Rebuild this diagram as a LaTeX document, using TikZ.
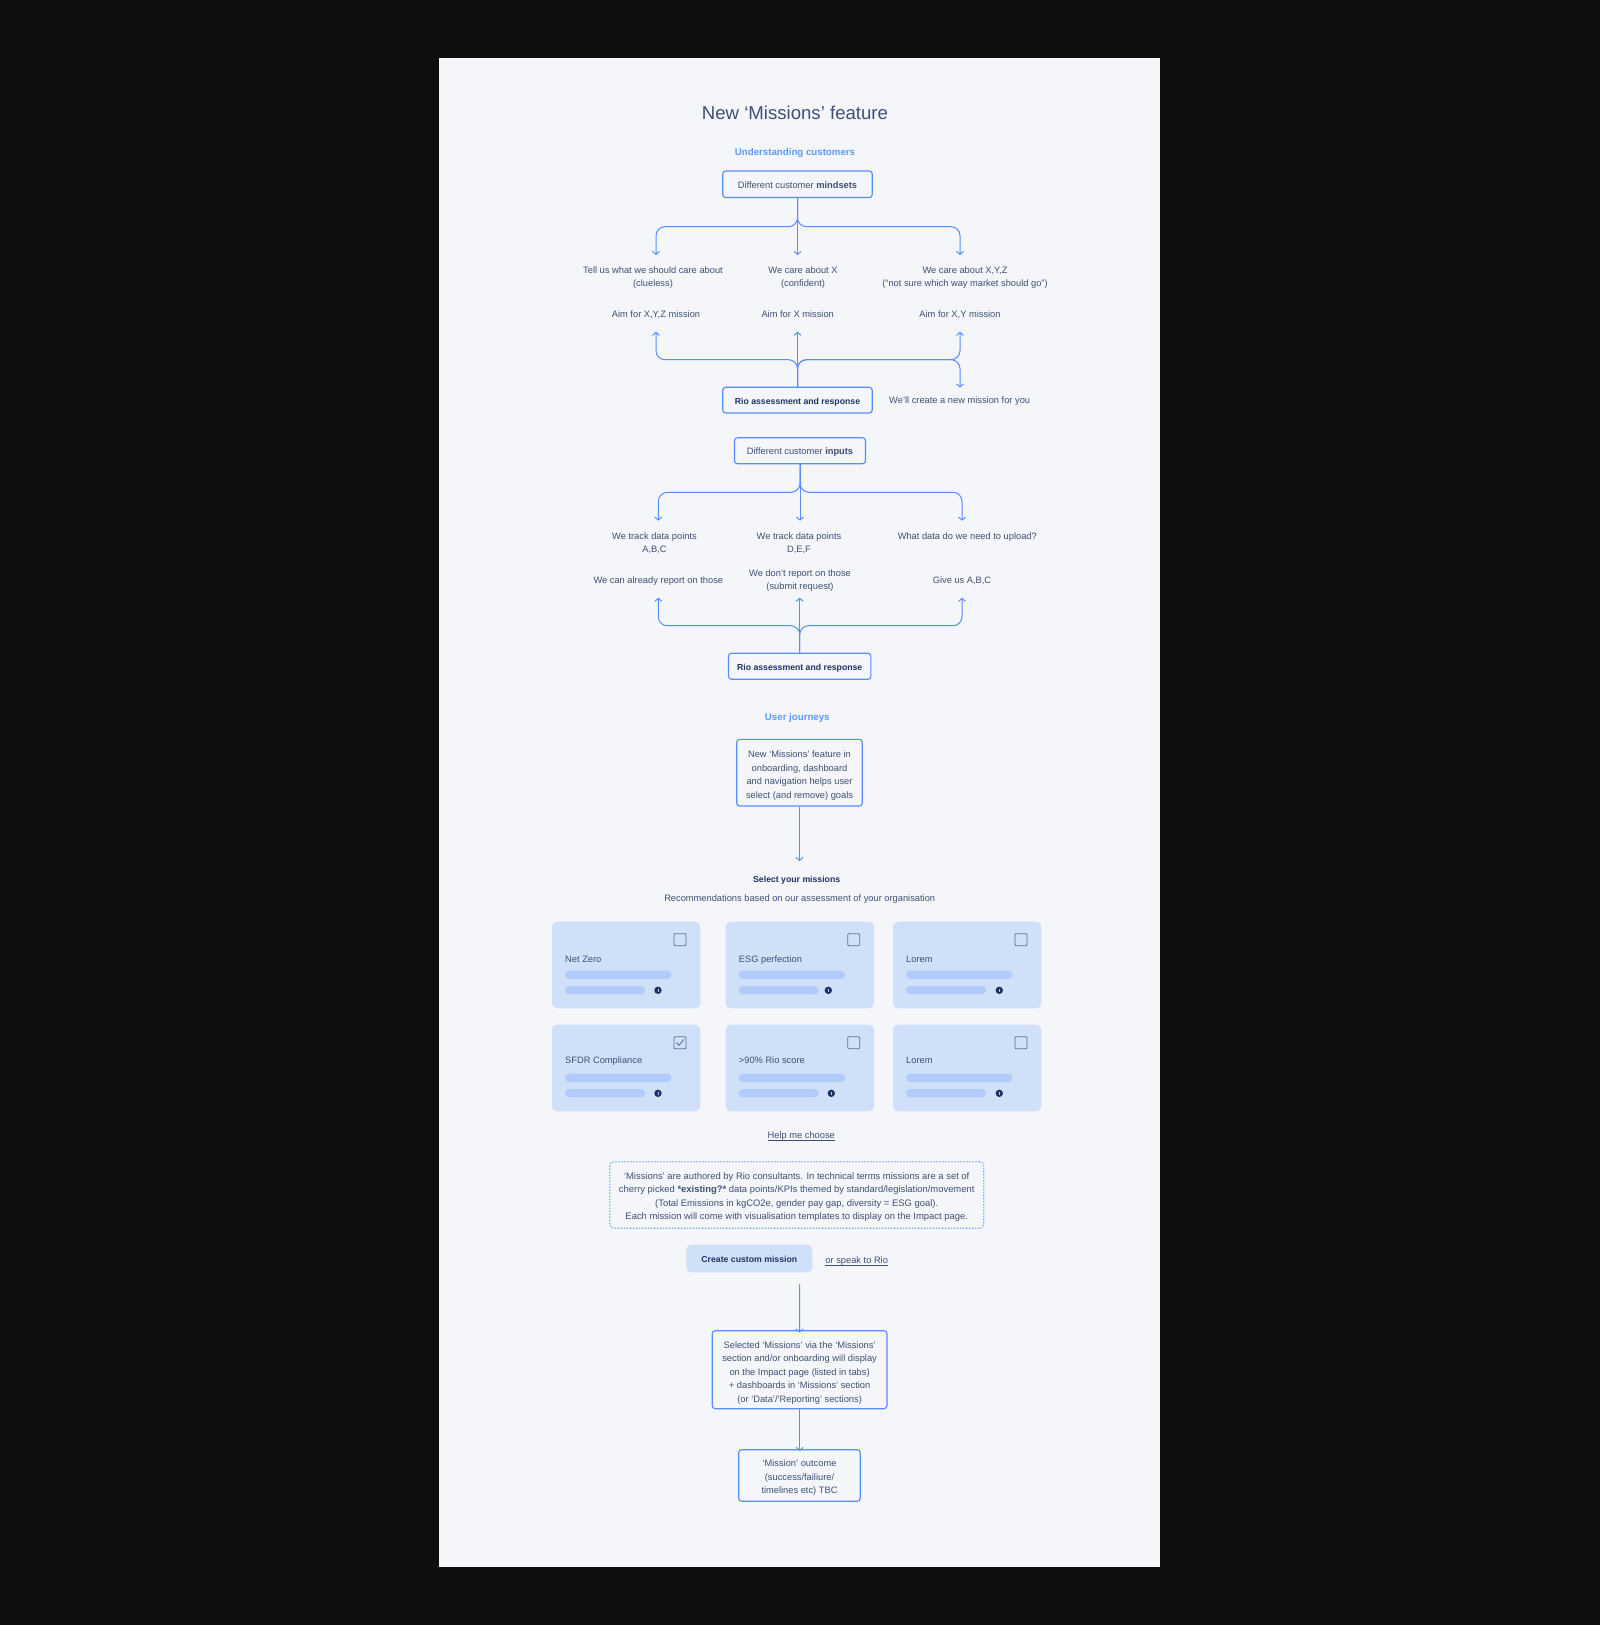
\documentclass[tikz,border=0pt]{standalone}
\usepackage{fontspec}
\setmainfont{Liberation Sans}
\usetikzlibrary{arrows.meta}
\definecolor{outside}{HTML}{0E0E0F}
\definecolor{panel}{HTML}{F4F6F9}
\definecolor{cardfill}{HTML}{D0E0F9}
\definecolor{barfill}{HTML}{B1CCFA}
\definecolor{bodytext}{HTML}{3F4F75}
\definecolor{darktext}{HTML}{1F3263}
\definecolor{linecol}{HTML}{558FFF}
\definecolor{headcol}{HTML}{5B9BFF}
\definecolor{tickcol}{HTML}{5D7199}
\newcommand{\bodysize}{\fontsize{9.3}{13.5}\selectfont}
\newcommand{\notesize}{\fontsize{9.42}{13.5}\selectfont}
\newcommand{\boldsize}{\fontsize{8.7}{13.5}\selectfont\bfseries}
\newcommand{\headsize}{\fontsize{9.7}{13.5}\selectfont\bfseries}
\newcommand{\ulined}[1]{\leavevmode\setbox0=\hbox{#1}\rlap{\rule[-1.6pt]{\wd0}{0.6pt}}\box0}
\newcommand{\fl}{\rule{0pt}{13pt}}
\newcommand{\flb}{\rule{0pt}{11pt}}
\tikzset{
  stline/.style={execute at begin node={\rule{0pt}{12pt}\strut},execute at end node=\strut},
  txt/.style={inner sep=0pt,text=bodytext,align=center,font=\bodysize,stline},
  mtxt/.style={inner sep=0pt,text=bodytext,align=center,font=\bodysize},
  flowbox/.style={draw=linecol,line width=1.15pt,rounded corners=3pt,fill=panel},
  riobox/.style={txt,flowbox,font=\boldsize,text=darktext,execute at begin node={\rule{0pt}{10pt}\strut}},
  heading/.style={inner sep=0pt,text=headcol,font=\headsize,stline},
  conn/.style={draw=linecol,line width=1pt,-{Straight Barb[length=3pt,width=7pt,line width=1pt]}},
  fork/.style={conn,rounded corners=9pt},
  missioncard/.style={fill=cardfill,rounded corners=5pt,draw=none},
  bar/.style={fill=barfill,rounded corners=4pt,draw=none},
  tickbox/.style={draw=tickcol,line width=0.8pt,rounded corners=1pt},
}
\newcommand{\cardat}[5]{% x, y, label, label y offset, info x offset
  \begin{scope}[shift={(#1,#2)}]
    \fill[missioncard] (0,0) rectangle (148.3,86.6);
    \draw[tickbox] (122,12) rectangle (134,24);
    \node[txt,anchor=west] at (13,#4) {#3};
    \fill[bar] (13,49) rectangle (119.3,57.3);
    \fill[bar] (13,64.3) rectangle (93,72.6);
    \fill[darktext] (#5,68.6) circle (3.7);
    \draw[barfill,line width=0.6pt] (#5,67) -- (#5,70.2);
  \end{scope}
}
\begin{document}
\begin{tikzpicture}[x=1pt,y=-1pt]
\fill[outside] (0,0) rectangle (1600,1625);
\useasboundingbox (0,0) rectangle (1600,1625);
\fill[panel] (439.4,58) rectangle (1160,1567);

\node[inner sep=0pt,text=bodytext,font=\fontsize{18.6}{22}\selectfont] (title) at (795,113) {New ‘Missions’ feature};
\node[heading] (h1) at (795,152) {Understanding customers};

% --- mindsets
\node[txt,flowbox,minimum width=149.5pt,minimum height=26.5pt] (mind) at (797.5,184.3) {Different customer \textbf{mindsets}};
\coordinate (mj) at (797.5,226.7);
\coordinate (ml) at (656,226.7);
\coordinate (mr) at (960,226.7);
\coordinate (ma) at (656,255);
\coordinate (mb) at (797.5,255);
\coordinate (mc) at (960,255);
\draw[fork] (mind.south) -- (mj) -- (ml) -- (ma);
\draw[conn] (mind.south) -- (mb);
\draw[fork] (mind.south) -- (mj) -- (mr) -- (mc);

\node[mtxt] (m1) at (653,274.4) {\fl Tell us what we should care about\\(clueless)};
\node[mtxt] (m2) at (803,274.4) {\fl We care about X\\(confident)};
\node[mtxt] (m3) at (965,274.4) {\fl We care about X,Y,Z\\(“not sure which way market should go”)};
\node[txt] (a1) at (656,313.7) {Aim for X,Y,Z mission};
\node[txt] (a2) at (797.7,313.7) {Aim for X mission};
\node[txt] (a3) at (960,313.7) {Aim for X,Y mission};

\node[riobox,minimum width=149.5pt,minimum height=25.7pt] (rio1) at (797.5,400.1) {Rio assessment and response};
\node[txt] (new) at (959.7,400) {We’ll create a new mission for you};
\coordinate (rj) at (797.5,359.7);
\coordinate (rl) at (656,359.7);
\coordinate (rr) at (960,359.7);
\coordinate (ra) at (656,331.7);
\coordinate (rb) at (797.5,331.7);
\coordinate (rc) at (960,331.7);
\coordinate (rd) at (960,387.5);
\draw[fork] (rio1.north) -- (rj) -- (rl) -- (ra);
\draw[conn] (rio1.north) -- (rb);
\draw[fork] (rio1.north) -- (rj) -- (rr) -- (rc);
\draw[fork] (rio1.north) -- (rj) -- (rr) -- (rd);

% --- inputs
\node[txt,flowbox,minimum width=131pt,minimum height=26pt] (inp) at (800,450.7) {Different customer \textbf{inputs}};
\coordinate (ij) at (800,492.3);
\coordinate (il) at (658.3,492.3);
\coordinate (ir) at (962,492.3);
\coordinate (ia) at (658.3,520.7);
\coordinate (ib) at (800,520.7);
\coordinate (ic) at (962,520.7);
\draw[fork] (inp.south) -- (ij) -- (il) -- (ia);
\draw[conn] (inp.south) -- (ib);
\draw[fork] (inp.south) -- (ij) -- (ir) -- (ic);

\node[mtxt] (i1) at (654.5,540) {\fl We track data points\\A,B,C};
\node[mtxt] (i2) at (799,540) {\fl We track data points\\D,E,F};
\node[txt] (i3) at (967.3,535.3) {What data do we need to upload?};
\node[txt] (o1) at (658.3,579.7) {We can already report on those};
\node[mtxt] (o2) at (800,577.5) {\fl We don’t report on those\\(submit request)};
\node[txt] (o3) at (962,579.7) {Give us A,B,C};

\node[riobox,minimum width=142.4pt,minimum height=26pt] (rio2) at (799.7,666.3) {Rio assessment and response};
\coordinate (sj) at (799.7,625.7);
\coordinate (sl) at (658.3,625.7);
\coordinate (sr) at (962,625.7);
\coordinate (sa) at (658.3,597.7);
\coordinate (sb) at (799.7,597.7);
\coordinate (sc) at (962,597.7);
\draw[fork] (rio2.north) -- (sj) -- (sl) -- (sa);
\draw[conn] (rio2.north) -- (sb);
\draw[fork] (rio2.north) -- (sj) -- (sr) -- (sc);

% --- journeys
\node[heading] (h2) at (797.3,717) {User journeys};
\node[mtxt,flowbox,minimum width=125.6pt,minimum height=66.7pt] (nm) at (799.5,772.7) {\fl New ‘Missions’ feature in\\onboarding, dashboard\\and navigation helps user\\select (and remove) goals};
\coordinate (nt) at (799.5,861);
\draw[conn] (nm.south) -- (nt);

\node[txt,text=darktext,font=\boldsize] (sel) at (796.7,878.7) {Select your missions};
\node[txt] (rec) at (799.7,897.7) {Recommendations based on our assessment of your organisation};

\cardat{552}{921.7}{Net Zero}{36.6}{106}
\cardat{725.7}{921.7}{ESG perfection}{36.6}{102.6}
\cardat{893}{921.7}{Lorem}{36.6}{106.3}
\cardat{552}{1024.7}{SFDR Compliance}{35}{106}
\cardat{725.7}{1024.7}{>90\% Rio score}{35}{105.6}
\cardat{893}{1024.7}{Lorem}{35}{106.3}
\draw[tickcol,line width=0.9pt] (676.5,1042.7) -- (679,1045.2) -- (683.8,1039.5);

\node[txt] (help) at (801.3,1135) {\ulined{Help me choose}};

\node[mtxt,font=\notesize,draw=headcol!85!white,line width=1.2pt,dash pattern=on 1.4pt off 1.6pt,rounded corners=4pt,minimum width=374pt,minimum height=66.6pt] (note) at (796.7,1195) {\flb ‘Missions’ are authored by Rio consultants. In technical terms missions are a set of\\cherry picked \textbf{*existing?*} data points/KPIs themed by standard/legislation/movement\\(Total Emissions in kgCO2e, gender pay gap, diversity = ESG goal).\\Each mission will come with visualisation templates to display on the Impact page.};

\node[txt,fill=cardfill,rounded corners=5pt,minimum width=126pt,minimum height=27.6pt,text=darktext,font=\boldsize] (btn) at (749.3,1258.5) {Create custom mission};
\node[txt] (speak) at (856.7,1259.7) {\ulined{or speak to Rio}};

\coordinate (bs) at (799.5,1284.3);
\node[mtxt,flowbox,minimum width=174.7pt,minimum height=78pt] (sm) at (799.6,1369.7) {\fl Selected ‘Missions’ via the ‘Missions’\\section and/or onboarding will display\\on the Impact page (listed in tabs)\\+ dashboards in ‘Missions’ section\\(or ‘Data’/‘Reporting’ sections)};
\coordinate (st) at (799.6,1332.7);
\draw[conn] (bs) -- (st);
\node[mtxt,flowbox,minimum width=121.6pt,minimum height=51.6pt] (oc) at (799.5,1475.5) {\flb ‘Mission’ outcome\\(success/failiure/\\timelines etc) TBC};
\coordinate (ot) at (799.6,1451);
\draw[conn] (sm.south) -- (ot);
\end{tikzpicture}
\end{document}
